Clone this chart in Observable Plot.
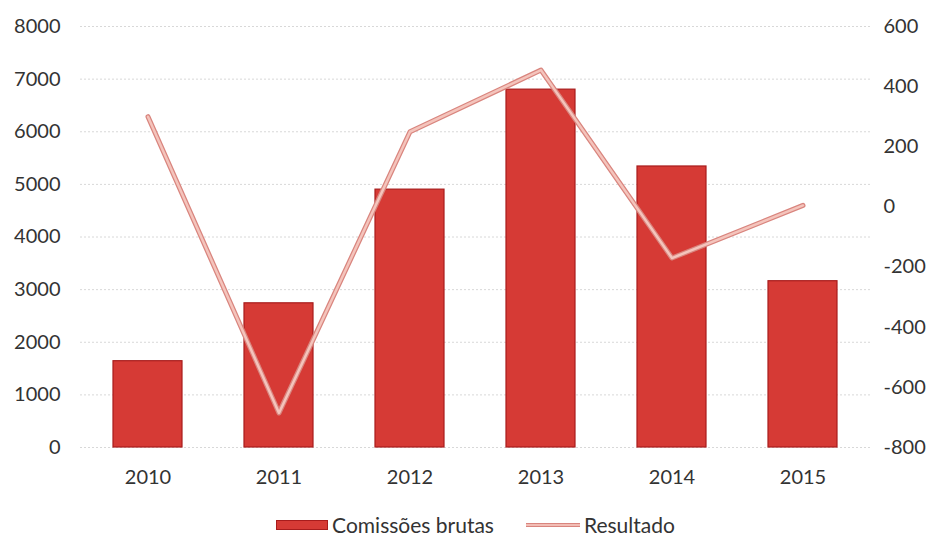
<!DOCTYPE html>
<html>
<head>
<meta charset="utf-8">
<script src="https://cdn.jsdelivr.net/npm/d3@7"></script>
<script src="https://cdn.jsdelivr.net/npm/@observablehq/plot@0.6"></script>
<style>
  html, body { margin: 0; background: #fff; font-family: Lato, "Open Sans", sans-serif; overflow: hidden; }
  #legend { display: flex; justify-content: center; align-items: center; gap: 32px; font-size: 21px; line-height: 24px; color: #333; margin-top: 13px; padding-left: 14px; }
  .item { display: flex; align-items: center; gap: 4px; }
  .sw-bar { width: 52px; height: 10px; background: #d63a35; border: 1px solid #a81c1c; box-sizing: border-box; }
  .sw-line { width: 54px; height: 4px; background: #f2bdb5; border-top: 1px solid #d9857e; border-bottom: 1px solid #d9857e; box-sizing: border-box; }
</style>
</head>
<body>
<div id="chart"></div>
<div id="legend">
  <div class="item"><div class="sw-bar"></div><span>Comissões brutas</span></div>
  <div class="item"><div class="sw-line"></div><span>Resultado</span></div>
</div>
<script>
const years = ["2010", "2011", "2012", "2013", "2014", "2015"];
const comissoes = [1640, 2740, 4900, 6800, 5340, 3160];
const resultado = [300, -685, 250, 455, -170, 5];
const leftTicks = [0, 1000, 2000, 3000, 4000, 5000, 6000, 7000, 8000];
const rightTicks = [-800, -600, -400, -200, 0, 200, 400, 600];

const leftMax = 8000;
const rightMin = -800, rightMax = 600;
// map right-axis values onto the left scale's domain
const toLeft = v => (v - rightMin) / (rightMax - rightMin) * leftMax;

const bars = years.map((y, i) => ({year: y, value: comissoes[i]}));
const line = years.map((y, i) => ({year: y, value: resultado[i], scaled: toLeft(resultado[i])}));

const chart = Plot.plot({
  width: 937,
  height: 500,
  marginTop: 26,
  marginBottom: 53,
  marginLeft: 80,
  marginRight: 66,
  style: {fontFamily: "Lato, 'Open Sans', sans-serif", fontSize: "20px", color: "#333", background: "#fff"},
  x: {domain: years, paddingInner: 0.47, paddingOuter: 0.235, label: null},
  y: {domain: [0, leftMax], label: null},
  marks: [
    Plot.gridY(leftTicks, {stroke: "#d8d8d8", strokeOpacity: 1, strokeDasharray: "2,2"}),
    Plot.barY(bars, {x: "year", y: "value", fill: "#d63a35", stroke: "#a81c1c", strokeWidth: 1.2}),
    Plot.line(line, {x: "year", y: "scaled", stroke: "#d9857e", strokeWidth: 5, curve: "linear"}),
    Plot.line(line, {x: "year", y: "scaled", stroke: "#f4c4bc", strokeWidth: 2.5, curve: "linear"}),
    Plot.axisX({tickSize: 0, tickPadding: 22, label: null, fontSize: 20, fill: "#333"}),
    Plot.axisY(leftTicks, {anchor: "left", tickSize: 0, tickPadding: 20, label: null, fontSize: 20, fill: "#333", tickFormat: d => String(d)}),
    Plot.axisY(rightTicks.map(toLeft), {
      anchor: "right", tickSize: 0, tickPadding: 12, label: null, fontSize: 20, fill: "#333",
      tickFormat: (d, i) => String(rightTicks[i])
    })
  ]
});
document.getElementById("chart").appendChild(chart);
</script>
</body>
</html>
